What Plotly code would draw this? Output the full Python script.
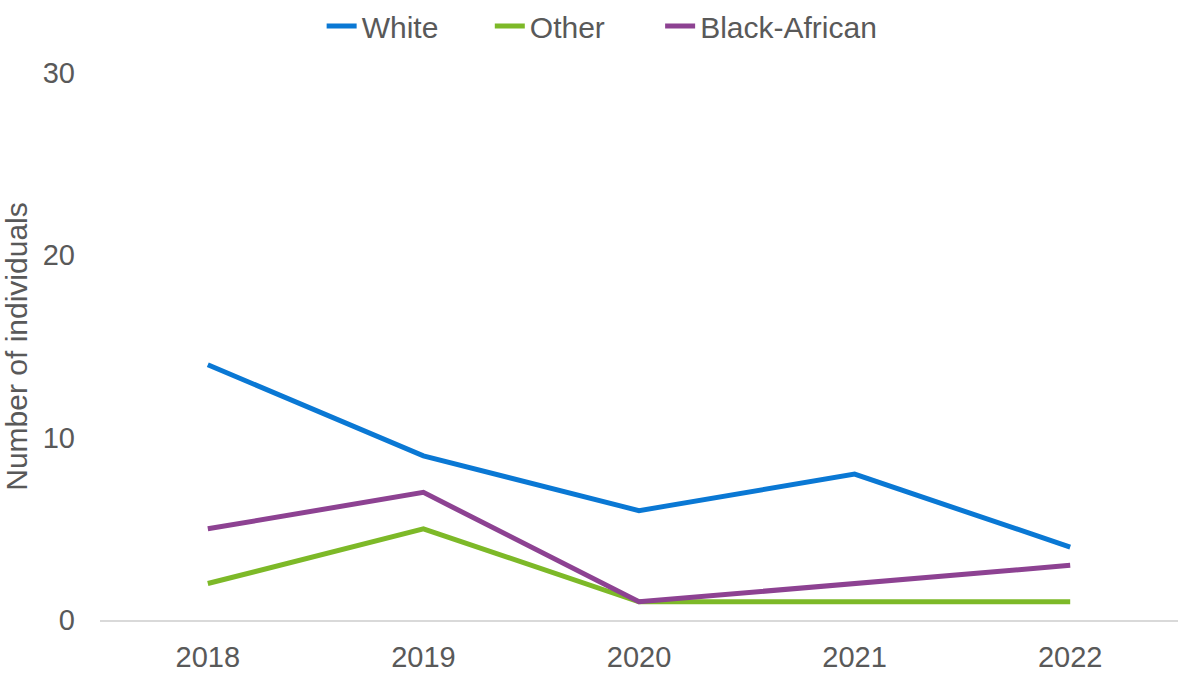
import plotly.graph_objects as go

years = ["2018", "2019", "2020", "2021", "2022"]
white = [14, 9, 6, 8, 4]
other = [2, 5, 1, 1, 1]
black_african = [5, 7, 1, 2, 3]

series = [
    ("White", white, "#0A78D4", "legend", 0.2056),
    ("Other", other, "#7DB928", "legend2", 0.3616),
    ("Black-African", black_african, "#8D4292", "legend3", 0.5196),
]

fig = go.Figure()
font_col = "#595959"
leg_layout = {}
for name, vals, col, leg, lx in series:
    fig.add_trace(go.Scatter(x=years, y=vals, name=name, mode="lines",
                             line=dict(color=col, width=5), legend=leg))
    leg_layout[leg] = dict(orientation="h", xref="paper", yref="paper",
                           x=lx, xanchor="left", y=1.1335, yanchor="top",
                           font=dict(size=30, color=font_col), itemwidth=30,
                           bgcolor="rgba(0,0,0,0)", borderwidth=0)

fig.update_layout(
    width=1178, height=675,
    margin=dict(l=100, r=0, t=73, b=55),
    paper_bgcolor="white", plot_bgcolor="white",
    font=dict(family="Liberation Sans, Arial", color=font_col, size=29),
    showlegend=True,
    xaxis=dict(type="category", range=[-0.5, 4.5], showgrid=False,
               showline=True, linecolor="#D9D9D9", linewidth=2,
               ticks="", tickfont=dict(size=29, color=font_col),
               ticklabelstandoff=10, zeroline=False),
    yaxis=dict(range=[0, 30], tickvals=[0, 10, 20, 30], showgrid=False,
               zeroline=False, showline=False, ticks="",
               tickfont=dict(size=29, color=font_col), ticklabelstandoff=24,
               title=dict(text="Number of individuals", font=dict(size=30, color=font_col),
                          standoff=12)),
    **leg_layout,
)

fig.write_html("out.html")
